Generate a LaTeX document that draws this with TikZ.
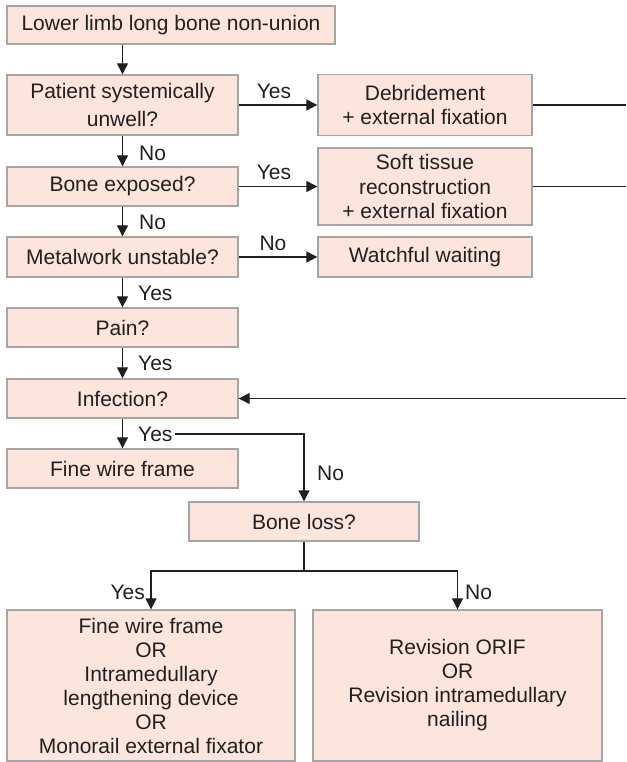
\documentclass[tikz,border=0pt]{standalone}
\usepackage{fontspec}
\setmainfont{Liberation Sans}
\usetikzlibrary{arrows.meta}
\definecolor{boxfill}{RGB}{251,229,220}
\definecolor{boxline}{RGB}{165,165,165}
\definecolor{ink}{RGB}{35,31,32}
\begin{document}
\begin{tikzpicture}[x=1pt,y=-1pt,
  every node/.style={font=\fontsize{21}{24.5}\selectfont, text=ink},
  box/.style={draw=boxline, line width=1.4pt, fill=boxfill, inner sep=0pt, align=center},
  conn/.style={draw=ink, line width=1.2pt},
  arr/.style={conn, -{Triangle[length=11pt,width=11pt]}},
  lbl/.style={inner sep=0pt, anchor=west},
  lble/.style={inner sep=0pt, anchor=east}
]
\useasboundingbox[fill=white] (0,0) rectangle (626,762);

% left column
\node[box, minimum width=328pt, minimum height=38pt] (n1) at (171,25) {Lower limb long bone non-union};
\node[box, minimum width=231pt, minimum height=60pt] (n2) at (122.5,105) {Patient systemically\\[3pt]unwell?};
\node[box, minimum width=231pt, minimum height=39pt] (n3) at (122.5,186.5) {Bone exposed?};
\node[box, minimum width=231pt, minimum height=40pt] (n4) at (122.5,257) {Metalwork unstable?};
\node[box, minimum width=231pt, minimum height=39pt] (n5) at (122.5,327.5) {Pain?};
\node[box, minimum width=231pt, minimum height=39pt] (n6) at (122.5,398.5) {Infection?};
\node[box, minimum width=231pt, minimum height=39pt] (n7) at (122.5,468.5) {Fine wire frame};

% right column
\node[box, minimum width=214pt, minimum height=61pt] (r1) at (425,105) {Debridement\\+ external fixation};
\node[box, minimum width=214pt, minimum height=77pt] (r2) at (425,186.5) {Soft tissue\\reconstruction\\+ external fixation};
\node[box, minimum width=214pt, minimum height=40pt] (r3) at (425,257) {Watchful waiting};

% lower part
\node[box, minimum width=230pt, minimum height=39pt] (b1) at (304,521.5) {Bone loss?};
\node[box, minimum width=288pt, minimum height=151pt, font=\fontsize{21}{24}\selectfont] (L) at (151,685.5)
  {Fine wire frame\\OR\\Intramedullary\\lengthening device\\OR\\Monorail external fixator};
\node[box, minimum width=289pt, minimum height=151pt, font=\fontsize{21}{24}\selectfont] (R) at (457.5,685.5)
  {Revision ORIF\\OR\\Revision intramedullary\\nailing};

% free ends at the right edge
\coordinate (e1) at (626,105);
\coordinate (e2) at (626,186.5);
\coordinate (e3) at (626,398.5);
\coordinate (j) at (304,571);

% vertical arrows
\draw[arr] (n1.south -| n2.north) -- (n2.north);
\draw[arr] (n2) -- (n3);
\draw[arr] (n3) -- (n4);
\draw[arr] (n4) -- (n5);
\draw[arr] (n5) -- (n6);
\draw[arr] (n6) -- (n7);

\node[lbl] at (139,153) {No};
\node[lbl] at (139,222) {No};
\node[lbl] at (138,293) {Yes};
\node[lbl] at (138,363) {Yes};
\node[lbl] (y6) at (138,434) {Yes};

% horizontal arrows
\draw[arr] (n2) -- (r1);
\draw[arr] (n3) -- (r2);
\draw[arr] (n4) -- (r3);
\node[inner sep=0pt] at (274,91) {Yes};
\node[inner sep=0pt] at (274,172) {Yes};
\node[inner sep=0pt] at (273,243) {No};

% lines to right edge and back
\draw[conn] (r1) -- (e1);
\draw[conn] (r2) -- (e2);
\draw[arr] (e3) -- (n6);

% infection -> bone loss
\draw[arr] ([xshift=2pt]y6.east) -| (b1.north);
\node[lbl] at (317,473) {No};

% bone loss branches
\draw[conn] (b1.south) -- (j);
\draw[arr] (j) -| (L.north);
\draw[arr] (j) -| (R.north);
\node[lble] at (145,592) {Yes};
\node[lbl] at (465,592) {No};
\end{tikzpicture}
\end{document}
